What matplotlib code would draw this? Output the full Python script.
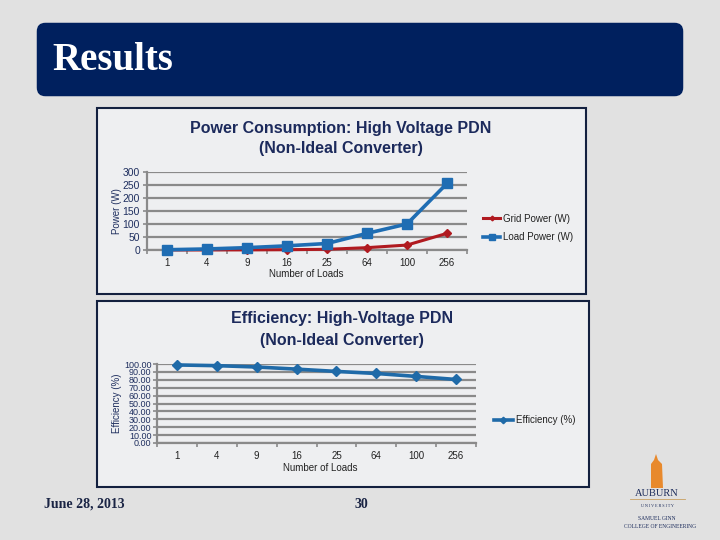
import matplotlib.pyplot as plt
import numpy as np
from matplotlib.patches import FancyBboxPatch, Rectangle, Polygon
from matplotlib.lines import Line2D

# data
loads = ["1", "4", "9", "16", "25", "64", "100", "256"]
grid_power = [0.1, 0.2, 0.5, 1.2, 2.7, 9.0, 19.0, 64.0]
load_power = [1, 4, 9, 16, 25, 64, 100, 256]
efficiency = [98.8, 97.9, 96.2, 93.5, 90.6, 88.0, 84.3, 80.4]

W, H = 720, 540
navy = "#1c2a5c"
txt = "#1f2f5f"
grid_c = "#8a8a8a"

plt.rcParams['font.family'] = ['Liberation Sans', 'DejaVu Sans']

fig = plt.figure(figsize=(7.2, 5.4), dpi=100)
fig.patch.set_facecolor("#e1e1e1")

def fx(x):
    return x / W

def fy(y):
    return 1 - y / H

# header banner
fig.patches.append(FancyBboxPatch((fx(40), fy(93)), fx(640), (93 - 26) / H,
                                  boxstyle="round,pad=0.0045,rounding_size=0.012",
                                  transform=fig.transFigure, facecolor="#00205e",
                                  edgecolor="none", mutation_aspect=W / H, zorder=-2))
fig.text(fx(52), fy(60), "Results", color="white", fontsize=28, fontweight="bold",
         family="Liberation Serif", va="center", ha="left")

# chart frames
for (x0, y0, x1, y1) in [(97, 108, 586, 294), (97, 301, 589, 487)]:
    fig.patches.append(Rectangle((fx(x0), fy(y1)), fx(x1 - x0), (y1 - y0) / H,
                                 transform=fig.transFigure, facecolor="#eeeff1",
                                 edgecolor="#13203f", linewidth=1.5, zorder=-2))


def style_axis(ax, ymax, step, fmt):
    n = len(loads)
    ax.set_facecolor("none")
    ax.set_xlim(-0.5, n - 0.5)
    ax.set_ylim(0, ymax)
    ticks = np.arange(0, ymax + step / 2, step)
    ax.set_yticks(ticks)
    ax.set_yticklabels([fmt.format(t) for t in ticks])
    ax.yaxis.grid(True, color=grid_c, linewidth=1.6)
    ax.set_axisbelow(True)
    ax.set_xticks(np.arange(-0.5, n, 1.0))
    ax.set_xticklabels([])
    ax.set_xticks(np.arange(n), minor=True)
    ax.set_xticklabels(loads, minor=True)
    ax.tick_params(axis="x", which="major", length=3, color=grid_c, width=1.2, direction="out")
    ax.tick_params(axis="x", which="minor", length=0, pad=6, labelsize=7, labelcolor="#222")
    ax.tick_params(axis="y", length=3, color=grid_c, width=1.2, labelsize=7.5,
                   labelcolor=txt, pad=2)
    for s in ["top", "right"]:
        ax.spines[s].set_visible(False)
    for s in ["left", "bottom"]:
        ax.spines[s].set_color(grid_c)
        ax.spines[s].set_linewidth(1.6)


# chart 1
ax1 = fig.add_axes([fx(147), fy(250), fx(320), 78 / H])
x = np.arange(len(loads))
style_axis(ax1, 300, 50, "{:.0f}")
ax1.plot(x, grid_power, color="#b01a20", linewidth=2.2, marker="D", markersize=4,
         label="Grid Power (W)", clip_on=False, zorder=3)
ax1.plot(x, load_power, color="#1f6db3", linewidth=2.6, marker="s", markersize=6.5,
         label="Load Power (W)", clip_on=False, zorder=4)
fig.text(fx(341), fy(128), "Power Consumption: High Voltage PDN", ha="center", va="center",
         fontsize=11.5, fontweight="bold", color=navy)
fig.text(fx(341), fy(148), "(Non-Ideal Converter)", ha="center", va="center",
         fontsize=11.5, fontweight="bold", color=navy)
fig.text(fx(117), fy(211), "Power (W)", rotation=90, ha="center", va="center",
         fontsize=7, color=txt)
fig.text(fx(306), fy(274), "Number of Loads", ha="center", va="center", fontsize=7, color="#222")
fig.legend(handles=ax1.get_lines(), loc="center left", bbox_to_anchor=(fx(474), fy(228)),
           frameon=False, fontsize=7, handlelength=1.8, handletextpad=0.25, labelspacing=0.9,
           labelcolor="#222", markerscale=0.6)

# chart 2
ax2 = fig.add_axes([fx(157), fy(443), fx(319), 79 / H])
style_axis(ax2, 100, 10, "{:.2f}")
ax2.tick_params(axis="y", labelsize=6.5, pad=1)
l2 = ax2.plot(x, efficiency, color="#1f6aa8", linewidth=2.6, marker="D", markersize=5.5,
              label="Efficiency (%)", clip_on=False, zorder=3)
fig.text(fx(342), fy(319), "Efficiency: High-Voltage PDN", ha="center", va="center",
         fontsize=11.5, fontweight="bold", color=navy)
fig.text(fx(342), fy(340), "(Non-Ideal Converter)", ha="center", va="center",
         fontsize=11.5, fontweight="bold", color=navy)
fig.text(fx(117), fy(403), "Efficiency (%)", rotation=90, ha="center", va="center",
         fontsize=7, color=txt)
fig.text(fx(320), fy(468), "Number of Loads", ha="center", va="center", fontsize=7, color="#222")
fig.legend(handles=l2, loc="center left", bbox_to_anchor=(fx(485), fy(420)),
           frameon=False, fontsize=7, handlelength=2.0, handletextpad=0.25, labelcolor="#222",
           markerscale=0.6)

# footer
fig.text(fx(44), fy(504), "June 28, 2013", ha="left", va="center", fontsize=10,
         fontweight="bold", family="Liberation Serif", color="#1a2444")
fig.text(fx(361), fy(504), "30", ha="center", va="center", fontsize=10,
         fontweight="bold", family="Liberation Serif", color="#1a2444")

# Auburn logo (rough)
fig.patches.append(Polygon([(fx(651), fy(488)), (fx(651), fy(464)), (fx(654), fy(460)),
                            (fx(656), fy(454)), (fx(658), fy(460)), (fx(662), fy(464)),
                            (fx(663), fy(488))], closed=True, transform=fig.transFigure,
                           facecolor="#e8892c", edgecolor="none"))
fig.text(fx(657), fy(493), "AUBURN", ha="center", va="center", fontsize=7.5,
         family="Liberation Serif", color="#1a2a5a")
fig.lines.append(Line2D([fx(630), fx(685)], [fy(499), fy(499)], transform=fig.transFigure,
                        color="#c9a060", linewidth=0.6))
fig.text(fx(657), fy(506), "U N I V E R S I T Y", ha="center", va="center", fontsize=3,
         family="Liberation Serif", color="#1a2a5a")
fig.text(fx(657), fy(518), "SAMUEL GINN", ha="center", va="center", fontsize=4,
         family="Liberation Serif", color="#1a2a5a")
fig.text(fx(660), fy(526), "COLLEGE OF ENGINEERING", ha="center", va="center", fontsize=4,
         family="Liberation Serif", color="#1a2a5a")

fig.savefig("out.png", dpi=100, facecolor=fig.get_facecolor())
